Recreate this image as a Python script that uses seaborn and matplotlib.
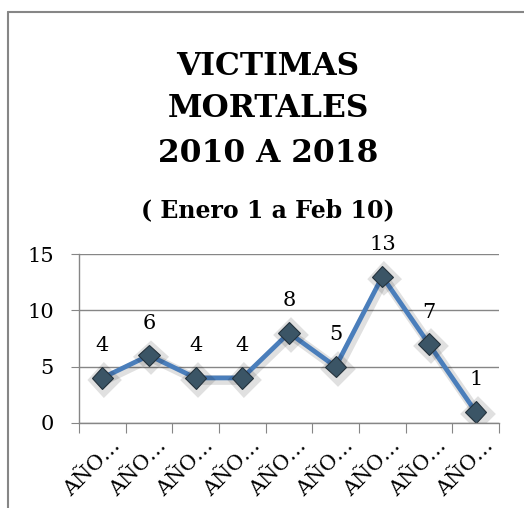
import matplotlib
matplotlib.use("Agg")
import matplotlib.pyplot as plt
import matplotlib.patheffects as pe
import matplotlib.transforms as mtransforms
from matplotlib.lines import Line2D
import seaborn as sns
import pandas as pd

# Data
anios = [2010, 2011, 2012, 2013, 2014, 2015, 2016, 2017, 2018]
victimas = [4, 6, 4, 4, 8, 5, 13, 7, 1]
etiquetas = ["AÑO…"] * len(anios)

df = pd.DataFrame({"pos": range(len(anios)), "anio": anios, "victimas": victimas})

sns.set_style("white")
plt.rcParams["font.family"] = ["DejaVu Serif"]
plt.rcParams["text.color"] = "black"

W, H = 524, 508
fig = plt.figure(figsize=(W / 100, H / 100), dpi=100)
ax = fig.add_axes([79 / W, 1 - 423 / H, 420 / W, 169 / H])

sns.lineplot(x="pos", y="victimas", data=df, ax=ax, color="#4A7EBB", linewidth=3.4,
             marker="D", markersize=11, markerfacecolor="#3B5566",
             markeredgecolor="#24323C", markeredgewidth=0.8,
             path_effects=[pe.SimpleLineShadow(offset=(1.5, -1.5), shadow_color="#000000", alpha=0.12, linewidth=7),
                           pe.Normal()])

# data labels
for i, v in enumerate(victimas):
    ax.annotate(str(v), (i, v), xytext=(0, 23), textcoords="offset points",
                ha="center", va="center", fontsize=15)

ax.set_xlim(-0.5, len(anios) - 0.5)
ax.set_ylim(0, 15)
ax.set_yticks([0, 5, 10, 15])
ax.tick_params(axis="y", labelsize=15, length=6, color="#868686", labelcolor="black",
               direction="out", left=True, pad=12)
ax.grid(axis="y", color="#868686", linewidth=1)
ax.set_axisbelow(True)

# category boundary ticks + centered labels
ax.set_xticks([k - 0.5 for k in range(len(anios) + 1)])
ax.set_xticklabels([])
ax.tick_params(axis="x", which="major", length=7, color="#868686", direction="out", bottom=True)
ax.set_xticks(range(len(anios)), minor=True)
ax.set_xticklabels(etiquetas, minor=True, rotation=45, ha="right", va="center",
                   rotation_mode="anchor", fontsize=15)
ax.tick_params(axis="x", which="minor", length=0, pad=14, labelcolor="black")
shift = mtransforms.ScaledTranslation(15 / 100, 0, fig.dpi_scale_trans)
for lab in ax.get_xticklabels(minor=True):
    lab.set_transform(lab.get_transform() + shift)

for s in ["top", "right"]:
    ax.spines[s].set_visible(False)
for s in ["left", "bottom"]:
    ax.spines[s].set_color("#868686")
    ax.spines[s].set_linewidth(1)

ax.set_xlabel("")
ax.set_ylabel("")

# title
for txt, yb in [("VICTIMAS", 75), ("MORTALES", 117), ("2010 A 2018", 162)]:
    fig.text(268 / W, 1 - yb / H, txt, ha="center", va="baseline",
             fontsize=22.5, fontweight="bold")
fig.text(268 / W, 1 - 217 / H, "( Enero 1 a Feb 10)", ha="center", va="baseline",
         fontsize=17, fontweight="bold")

# chart frame
fig.add_artist(Line2D([8 / W, 8 / W], [0, 1 - 12 / H], color="#868686", linewidth=1.5))
fig.add_artist(Line2D([8 / W, 1.0], [1 - 12 / H, 1 - 12 / H], color="#868686", linewidth=1.5))

fig.savefig("out.png", dpi=100)
